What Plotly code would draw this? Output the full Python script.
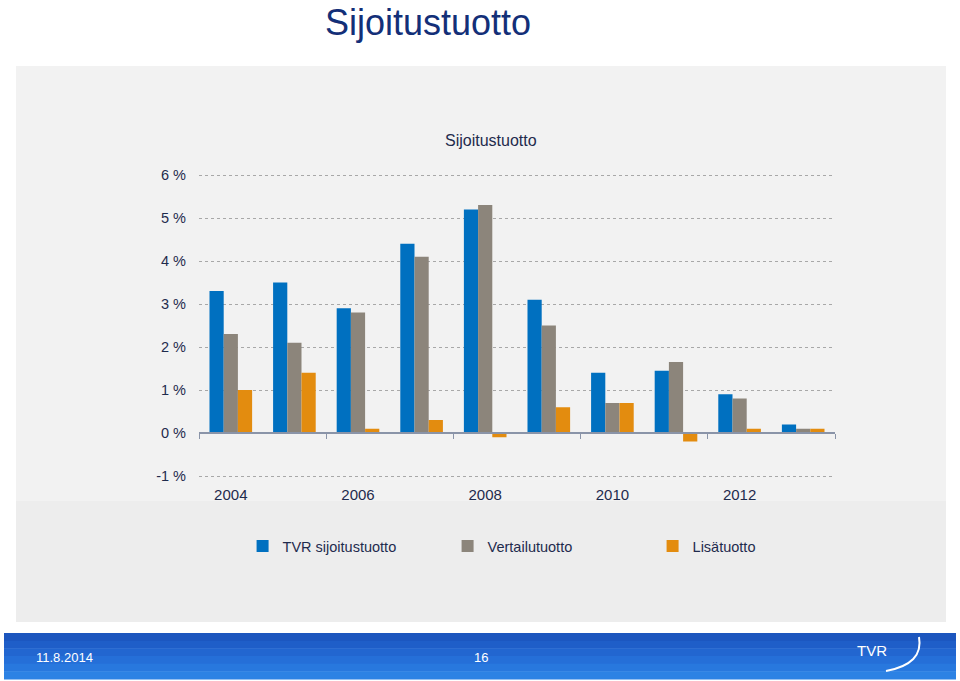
import plotly.graph_objects as go

years = [2004, 2005, 2006, 2007, 2008, 2009, 2010, 2011, 2012, 2013]
tvr = [3.3, 3.5, 2.9, 4.4, 5.2, 3.1, 1.4, 1.45, 0.9, 0.2]
vertailu = [2.3, 2.1, 2.8, 4.1, 5.3, 2.5, 0.7, 1.65, 0.8, 0.1]
lisa = [1.0, 1.4, 0.1, 0.3, -0.1, 0.6, 0.7, -0.2, 0.1, 0.1]
series_names = ["TVR sijoitustuotto", "Vertailutuotto", "Lisätuotto"]
colors = ["#0070C0", "#8C857B", "#E38C0F"]
x_tick_vals = [2004, 2006, 2008, 2010, 2012]
y_ticks = [-1, 0, 1, 2, 3, 4, 5, 6]
y_tick_text = ["-1 %", "0 %", "1 %", "2 %", "3 %", "4 %", "5 %", "6 %"]

W, H = 960, 681
def px(x): return x / W
def py(y): return 1 - y / H

fig = go.Figure()
for name, vals, c in zip(series_names, [tvr, vertailu, lisa], colors):
    fig.add_trace(go.Bar(x=years, y=vals, name=name, marker=dict(color=c, line=dict(width=0))))
fig.add_trace(go.Scatter(x=[years[0]], y=[0], xaxis="x2", mode="markers",
                         marker=dict(opacity=0), showlegend=False, hoverinfo="skip"))

txt = "#1F2B4D"
font = "Liberation Sans, Arial, sans-serif"

ext = 0.03                      # small range padding so edge gridlines are drawn
upp = (476 - 175) / 7.0         # pixels per percent
y_bot, y_top = py(476 + ext * upp), py(175 - ext * upp)
zero_pos = y_bot + (y_top - y_bot) * (1 + ext) / (7 + 2 * ext)

fig.update_layout(
    width=W, height=H,
    margin=dict(l=0, r=0, t=0, b=0, pad=0, autoexpand=False),
    paper_bgcolor="white",
    plot_bgcolor="rgba(0,0,0,0)",
    barmode="group", bargap=0.33, bargroupgap=0,
    font=dict(family=font, color=txt, size=14),
    xaxis=dict(domain=[px(199), px(835)], range=[2003.5, 2013.5],
               tickvals=x_tick_vals, ticktext=[str(v) for v in x_tick_vals],
               showgrid=False, showline=False, zeroline=False, ticks="",
               ticklabelstandoff=7, tickfont=dict(size=15, color=txt)),
    xaxis2=dict(overlaying="x", anchor="free", position=zero_pos,
                domain=[px(199), px(835)], range=[2003.5, 2013.5],
                tickvals=[2003.5, 2005.5, 2007.5, 2009.5, 2011.5, 2013.5],
                showticklabels=False, ticks="outside", ticklen=5, tickcolor="#8A94A8",
                showline=True, linecolor="#8A94A8", linewidth=1.5, showgrid=False, zeroline=False),
    yaxis=dict(domain=[y_bot, y_top], range=[-1 - ext, 6 + ext], tickvals=y_ticks, ticktext=y_tick_text,
               showgrid=True, gridcolor="#A8A8A8", griddash="dot", gridwidth=1,
               zeroline=False, showline=False, ticklabelstandoff=12,
               tickfont=dict(size=14.5, color=txt)),
    legend=dict(orientation="h", x=0.573, xanchor="center", y=py(546), yanchor="middle",
                font=dict(size=14.5, color=txt), bgcolor="rgba(0,0,0,0)",
                entrywidth=160, itemwidth=30, traceorder="normal"),
    showlegend=True,
)

shapes = [
    dict(type="rect", xref="paper", yref="paper", x0=px(16), x1=px(946), y0=py(501), y1=py(66),
         fillcolor="#F2F2F2", line=dict(width=0), layer="below"),
    dict(type="rect", xref="paper", yref="paper", x0=px(16), x1=px(946), y0=py(622), y1=py(501),
         fillcolor="#EDEDED", line=dict(width=0), layer="below"),
]
grad = ["#1C56BE", "#1F5EC8", "#2266D0", "#256FD8", "#2878DE", "#2C82E4"]
top, bot = 633, 679
n = len(grad)
for i, c in enumerate(grad):
    y0 = top + (bot - top) * i / n
    y1 = top + (bot - top) * (i + 1) / n
    shapes.append(dict(type="rect", xref="paper", yref="paper", x0=px(4), x1=px(956),
                       y0=py(y1 + 0.5), y1=py(y0), fillcolor=c, line=dict(width=0), layer="below"))
shapes.append(dict(type="path", xref="paper", yref="paper",
                   path=f"M {px(919)},{py(637)} Q {px(924)},{py(664)} {px(886)},{py(671)}",
                   line=dict(color="white", width=2), layer="above"))
fig.update_layout(shapes=shapes)

fig.add_annotation(text="Sijoitustuotto", xref="paper", yref="paper", x=px(428), y=1,
                   yanchor="top", showarrow=False, font=dict(size=36, color="#132F78", family=font))
fig.add_annotation(text="Sijoitustuotto", xref="paper", yref="paper", x=px(491), y=py(140),
                   yanchor="middle", showarrow=False, font=dict(size=16, color=txt, family=font))
fig.add_annotation(text="11.8.2014", xref="paper", yref="paper", x=px(34), y=py(657), xanchor="left",
                   yanchor="middle", showarrow=False, font=dict(size=13, color="white", family=font))
fig.add_annotation(text="16", xref="paper", yref="paper", x=px(481), y=py(657),
                   yanchor="middle", showarrow=False, font=dict(size=13, color="white", family=font))
fig.add_annotation(text="TVR", xref="paper", yref="paper", x=px(889), y=py(650),
                   yanchor="middle", showarrow=False, font=dict(size=15, color="white", family=font))

fig.write_html("out.html", config={"displayModeBar": False})
